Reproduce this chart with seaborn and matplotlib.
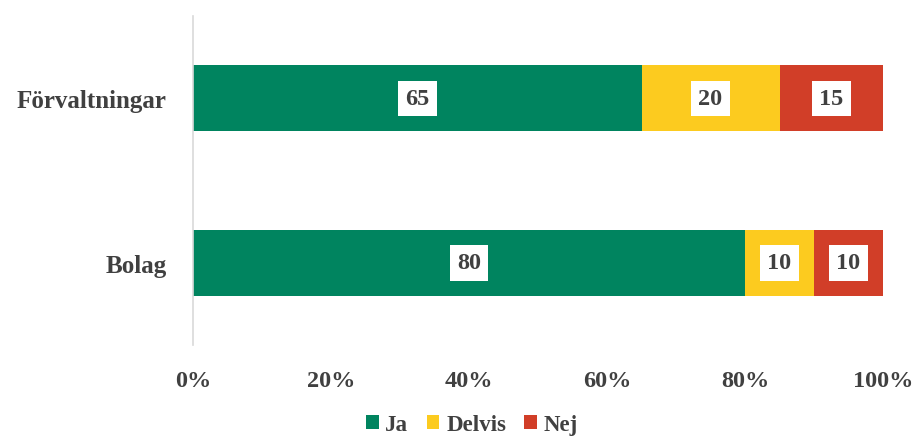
import pandas as pd
import matplotlib.pyplot as plt
import seaborn as sns
from matplotlib.patches import Patch

categories = ["Förvaltningar", "Bolag"]
ja = [65, 80]
delvis = [20, 10]
nej = [15, 10]

series = ["Ja", "Delvis", "Nej"]
colors = ["#00845F", "#FCCB1F", "#D13E28"]
text_color = "#404040"

sns.set_style("white")
plt.rcParams["font.family"] = ["Liberation Serif", "DejaVu Serif"]
plt.rcParams["font.weight"] = "bold"

df = pd.DataFrame({"kategori": categories, "Ja": ja, "Delvis": delvis, "Nej": nej})
df["cum_ja"] = df["Ja"]
df["cum_delvis"] = df["Ja"] + df["Delvis"]
df["cum_nej"] = df["Ja"] + df["Delvis"] + df["Nej"]

fig = plt.figure(figsize=(9.13, 4.39), dpi=100)
ax = fig.add_axes([0.2114, 0.212, 0.7558, 0.749])

# stacked bars by drawing cumulative totals back to front
for col, color in zip(["cum_nej", "cum_delvis", "cum_ja"], colors[::-1]):
    sns.barplot(data=df, x=col, y="kategori", color=color, width=0.4,
                orient="h", ax=ax, saturation=1, edgecolor="none")

# value labels in white boxes
for i, row in df.iterrows():
    starts = [0, row["cum_ja"], row["cum_delvis"]]
    for start, s in zip(starts, series):
        val = row[s]
        ax.text(start + val / 2, i, f"{val}", ha="center", va="center",
                fontsize=17.5, fontweight="bold", color=text_color,
                bbox=dict(boxstyle="square,pad=0.3", fc="white", ec="none"))

ax.set_xlim(0, 100)
ax.set_ylim(1.5, -0.5)
ax.set_xticks([0, 20, 40, 60, 80, 100])
ax.set_xticklabels([f"{t}%" for t in [0, 20, 40, 60, 80, 100]])
ax.set_xlabel("")
ax.set_ylabel("")
ax.tick_params(axis="x", length=0, pad=18, labelsize=17.5, colors=text_color)
ax.tick_params(axis="y", length=0, pad=19, labelsize=18, colors=text_color)
for lab in ax.get_xticklabels() + ax.get_yticklabels():
    lab.set_fontweight("bold")

for side in ["top", "right", "bottom"]:
    ax.spines[side].set_visible(False)
ax.spines["left"].set_color("#D9D9D9")
ax.spines["left"].set_linewidth(1.2)

handles = [Patch(facecolor=c, edgecolor="none", label=s) for s, c in zip(series, colors)]
leg = fig.legend(handles=handles, loc="lower center", bbox_to_anchor=(0.517, -0.04),
                 ncol=3, frameon=False, handlelength=0.55, handleheight=0.55,
                 handletextpad=0.3, columnspacing=0.8,
                 prop={"size": 16.5, "weight": "bold"})
for t in leg.get_texts():
    t.set_color(text_color)

fig.savefig("out.png", dpi=100)
